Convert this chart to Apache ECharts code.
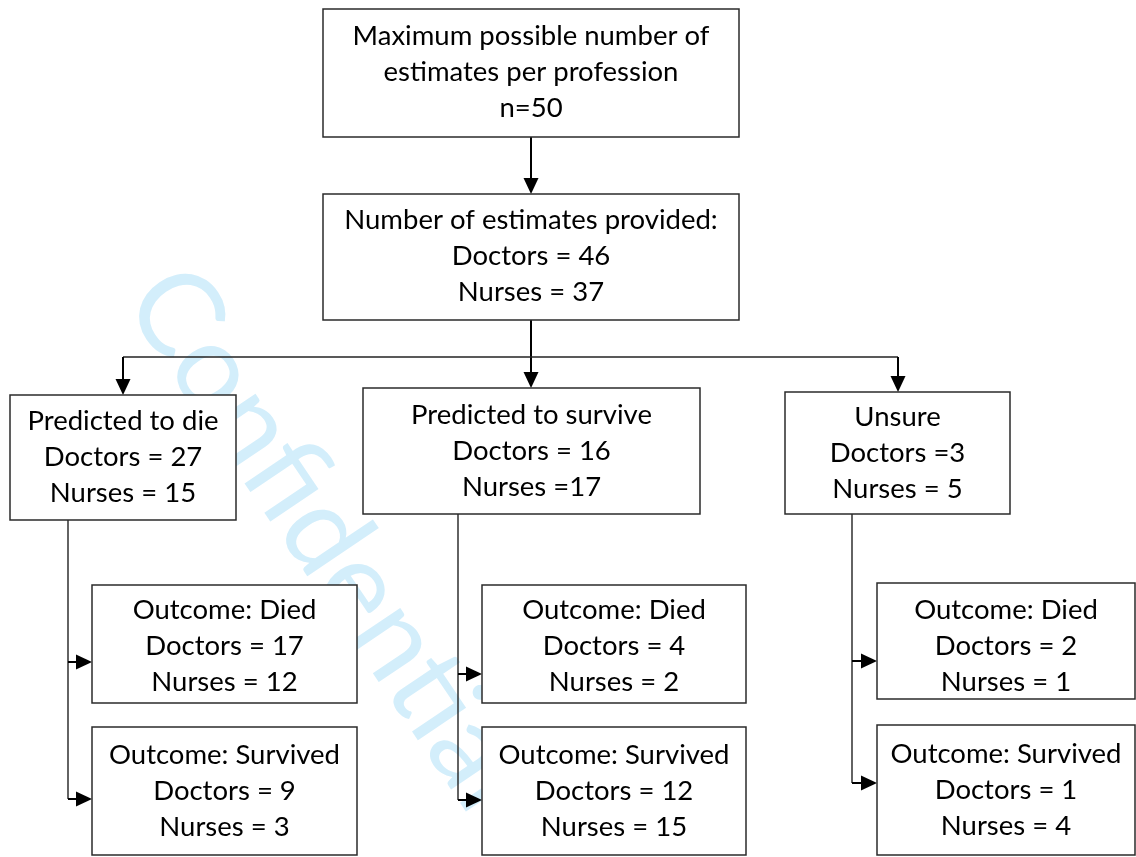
<!DOCTYPE html>
<html>
<head>
<meta charset="utf-8">
<script src="https://cdn.jsdelivr.net/npm/echarts@6/dist/echarts.min.js"></script>
<style>
  html, body { margin: 0; padding: 0; background: #ffffff; }
  #chart { width: 1136px; height: 857px; }
</style>
</head>
<body>
<div id="chart"></div>
<script>
// ---------- data ----------
const maxTitle = ['Maximum possible number of', 'estimates per profession'];
const maxN = 50;
const providedTitle = 'Number of estimates provided:';
const providedDoctors = 46;
const providedNurses = 37;
const predictionCategories = ['Predicted to die', 'Predicted to survive', 'Unsure'];
const predictedDoctors = [27, 16, 3];
const predictedNurses = [15, 17, 5];
const predictedDoctorsSep = [' = ', ' = ', ' ='];
const predictedNursesSep = [' = ', ' =', ' = '];
const outcomeCategories = ['Outcome: Died', 'Outcome: Survived'];
const diedDoctors = [17, 4, 2];
const diedNurses = [12, 2, 1];
const survivedDoctors = [9, 12, 1];
const survivedNurses = [3, 15, 4];
const watermarkText = 'Confidential';

// ---------- layout (diagram units = pixels of the 1136x857 canvas) ----------
const W = 1136, H = 857;
const topBox = [323, 9, 739, 137];
const providedBox = [323, 194, 739, 320];
const predictionBoxes = [[10, 395, 236, 520], [363, 388, 700, 514], [785, 392, 1010, 514]];
const diedBoxes = [[92, 585, 357, 703], [482, 585, 746, 703], [877, 583, 1135, 699]];
const survivedBoxes = [[92, 727, 357, 855], [482, 727, 746, 855], [877, 725, 1135, 855]];
const textCenterShift = { died: [2, 2, 5], survived: [0, 0, 0] };
const branchY = 357;
const spineX = [68, 458, 852];
const diedArrowY = [662, 674, 661];
const survivedArrowY = [799, 800, 783];

// ---------- build nodes ----------
const nodes = [];
nodes.push({ rect: topBox, lines: [maxTitle[0], maxTitle[1], 'n=' + maxN], dy: -1 });
nodes.push({ rect: providedBox, lines: [providedTitle, 'Doctors = ' + providedDoctors, 'Nurses = ' + providedNurses], dy: -1 });
predictionCategories.forEach((c, i) => {
  nodes.push({ rect: predictionBoxes[i], lines: [c, 'Doctors' + predictedDoctorsSep[i] + predictedDoctors[i], 'Nurses' + predictedNursesSep[i] + predictedNurses[i]], dy: 0 });
  nodes.push({ rect: diedBoxes[i], lines: [outcomeCategories[0], 'Doctors = ' + diedDoctors[i], 'Nurses = ' + diedNurses[i]], dy: textCenterShift.died[i] });
  nodes.push({ rect: survivedBoxes[i], lines: [outcomeCategories[1], 'Doctors = ' + survivedDoctors[i], 'Nurses = ' + survivedNurses[i]], dy: textCenterShift.survived[i] });
});

// ---------- build connectors ----------
const cx = (topBox[0] + topBox[2]) / 2;
const edges = [];
edges.push({ pts: [[cx, topBox[3]], [cx, providedBox[1]]], arrow: true, w: 2, color: '#000' });
edges.push({ pts: [[cx, providedBox[3]], [cx, predictionBoxes[1][1]]], arrow: true, w: 2, color: '#000' });
edges.push({ pts: [[cx, branchY], [123, branchY]], arrow: false, w: 1.4, color: '#222' });
edges.push({ pts: [[cx, branchY], [898, branchY]], arrow: false, w: 1.4, color: '#222' });
edges.push({ pts: [[123, branchY], [123, predictionBoxes[0][1]]], arrow: true, w: 2, color: '#000' });
edges.push({ pts: [[898, branchY], [898, predictionBoxes[2][1]]], arrow: true, w: 2, color: '#000' });
for (let i = 0; i < 3; i++) {
  const x = spineX[i];
  edges.push({ pts: [[x, predictionBoxes[i][3]], [x, survivedArrowY[i]]], arrow: false, w: 1.4, color: '#222' });
  edges.push({ pts: [[x, diedArrowY[i]], [diedBoxes[i][0], diedArrowY[i]]], arrow: true, w: 2, color: '#000' });
  edges.push({ pts: [[x, survivedArrowY[i]], [survivedBoxes[i][0], survivedArrowY[i]]], arrow: true, w: 2, color: '#000' });
}

const FONT = 'Lato, "Noto Sans", sans-serif';

const chart = echarts.init(document.getElementById('chart'), null, { renderer: 'canvas' });
chart.setOption({
  backgroundColor: '#ffffff',
  animation: false,
  grid: { left: 0, right: 0, top: 0, bottom: 0 },
  xAxis: { type: 'value', min: 0, max: W, show: false },
  yAxis: { type: 'value', min: 0, max: H, inverse: true, show: false },
  graphic: {
    elements: [{
      type: 'text',
      z: 0,
      x: 153, y: 280,
      rotation: -56 * Math.PI / 180,
      style: {
        text: watermarkText,
        font: '117px ' + FONT,
        fill: '#d3eefb',
        textAlign: 'left',
        textVerticalAlign: 'middle'
      }
    }]
  },
  series: [
    {
      type: 'custom',
      name: 'connectors',
      coordinateSystem: 'cartesian2d',
      z: 3,
      silent: true,
      data: edges.map((e, i) => [i]),
      renderItem: function (params, api) {
        const e = edges[api.value(0)];
        const pts = e.pts.map(p => api.coord(p));
        const children = [];
        let linePts = pts.slice();
        if (e.arrow) {
          const a = pts[pts.length - 2], b = pts[pts.length - 1];
          const dx = b[0] - a[0], dy = b[1] - a[1];
          const len = Math.sqrt(dx * dx + dy * dy);
          const ux = dx / len, uy = dy / len;
          const L = 16, hw = 7.5;
          const base = [b[0] - ux * L, b[1] - uy * L];
          linePts[linePts.length - 1] = [base[0] + ux * 1, base[1] + uy * 1];
          children.push({
            type: 'polygon',
            shape: { points: [b, [base[0] - uy * hw, base[1] + ux * hw], [base[0] + uy * hw, base[1] - ux * hw]] },
            style: { fill: '#000' }
          });
        }
        children.push({
          type: 'polyline',
          shape: { points: linePts },
          style: { stroke: e.color, lineWidth: e.w, fill: null }
        });
        return { type: 'group', children: children };
      }
    },
    {
      type: 'custom',
      name: 'boxes',
      coordinateSystem: 'cartesian2d',
      z: 4,
      silent: true,
      data: nodes.map((n, i) => [i]),
      renderItem: function (params, api) {
        const n = nodes[api.value(0)];
        const p0 = api.coord([n.rect[0], n.rect[1]]);
        const p1 = api.coord([n.rect[2], n.rect[3]]);
        const pc = api.coord([(n.rect[0] + n.rect[2]) / 2, (n.rect[1] + n.rect[3]) / 2 + n.dy]);
        return {
          type: 'group',
          children: [
            {
              type: 'rect',
              shape: { x: p0[0], y: p0[1], width: p1[0] - p0[0], height: p1[1] - p0[1] },
              style: { fill: '#ffffff', stroke: '#2b2b2b', lineWidth: 1.5 }
            },
            {
              type: 'text',
              x: pc[0], y: pc[1],
              style: {
                text: n.lines.join('\n'),
                font: '27.5px ' + FONT,
                lineHeight: 36,
                fill: '#000000',
                align: 'center',
                verticalAlign: 'middle'
              }
            }
          ]
        };
      }
    }
  ]
});
</script>
</body>
</html>
